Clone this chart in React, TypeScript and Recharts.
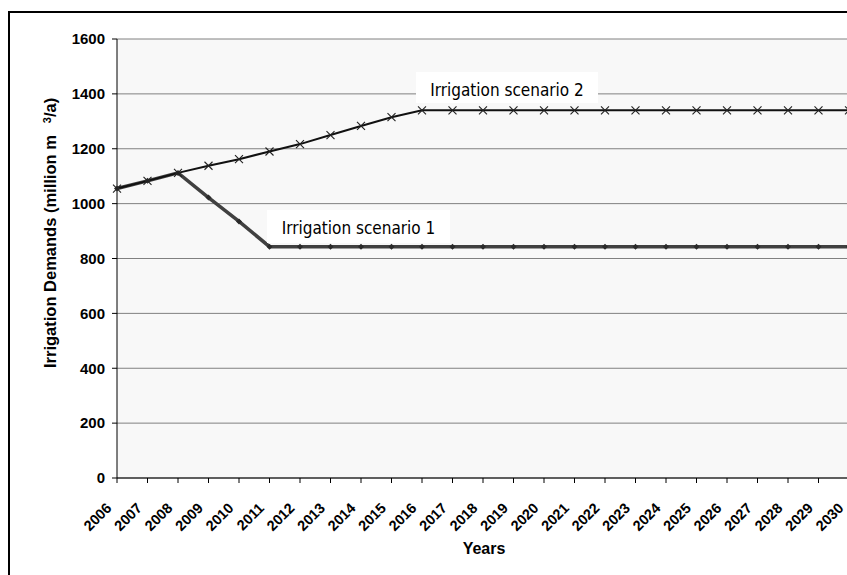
import React from 'react';
import { LineChart, Line, XAxis, YAxis, CartesianGrid } from 'recharts';

// Years on the x axis
const years = [
  '2006', '2007', '2008', '2009', '2010', '2011', '2012', '2013', '2014', '2015', '2016', '2017', '2018',
  '2019', '2020', '2021', '2022', '2023', '2024', '2025', '2026', '2027', '2028', '2029', '2030',
];

// Irrigation scenario 1 (million m3/a)
const scenario1 = [
  1055, 1083, 1112, 1022, 935, 843, 843, 843, 843, 843, 843, 843, 843,
  843, 843, 843, 843, 843, 843, 843, 843, 843, 843, 843, 843,
];

// Irrigation scenario 2 (million m3/a)
const scenario2 = [
  1055, 1083, 1112, 1138, 1162, 1190, 1217, 1250, 1283, 1315, 1340, 1340, 1340,
  1340, 1340, 1340, 1340, 1340, 1340, 1340, 1340, 1340, 1340, 1340, 1340,
];

const yTicks = [0, 200, 400, 600, 800, 1000, 1200, 1400, 1600];

const data = years.map((year, i) => ({
  year,
  s1: scenario1[i],
  s2: scenario2[i],
}));

const AXIS_FONT = "'Liberation Sans', Arial, sans-serif";
const NOTE_FONT = "'DejaVu Sans Condensed', 'DejaVu Sans', sans-serif";

const YearTick = (props: any) => {
  const { x, y, payload } = props;
  return (
    <g transform={`translate(${x - 4.5},${y + 24})`}>
      <text textAnchor="end" transform="rotate(-45)" fontFamily={AXIS_FONT} fontWeight="bold" fontSize={14.5} fill="#000">
        {payload.value}
      </text>
    </g>
  );
};

const CrossDot = (props: any) => {
  const { cx, cy, index } = props;
  if (cx == null || cy == null) return <g key={`c-${index}`} />;
  return (
    <path
      key={`c-${index}`}
      d={`M${cx - 4},${cy - 4}L${cx + 4},${cy + 4}M${cx - 4},${cy + 4}L${cx + 4},${cy - 4}`}
      stroke="#222"
      strokeWidth={1.1}
      fill="none"
    />
  );
};

const DiamondDot = (props: any) => {
  const { cx, cy, index } = props;
  if (cx == null || cy == null) return <g key={`d-${index}`} />;
  return (
    <path
      key={`d-${index}`}
      d={`M${cx},${cy - 3}L${cx + 3},${cy}L${cx},${cy + 3}L${cx - 3},${cy}Z`}
      fill="#2a2a2a"
    />
  );
};

export default function App() {
  return (
    <div style={{ position: 'fixed', left: 0, top: 0, width: 847, height: 575, overflow: 'hidden', background: '#fff' }}>
      {/* outer frame, cut off on the right and bottom like the original */}
      <div style={{ position: 'absolute', left: 8, top: 11, width: 900, height: 620, border: '2px solid #000' }} />

      <div style={{ position: 'absolute', left: 0, top: 0 }}>
        <LineChart width={880} height={575} data={data} margin={{ top: 39, right: 31, bottom: 17, left: 0 }}>
          <CartesianGrid vertical={false} stroke="#808080" fill="#f8f8f8" fillOpacity={1} />
          <XAxis
            dataKey="year"
            height={80}
            interval={0}
            tick={<YearTick />}
            tickSize={5}
            axisLine={{ stroke: '#000' }}
            tickLine={{ stroke: '#000' }}
          />
          <YAxis
            width={117}
            domain={[0, 1600]}
            ticks={yTicks}
            interval={0}
            tickSize={5}
            tickMargin={7}
            axisLine={{ stroke: '#000' }}
            tickLine={{ stroke: '#000' }}
            tick={{ fontFamily: AXIS_FONT, fontWeight: 'bold', fontSize: 15, fill: '#000' }}
          />
          <Line
            dataKey="s1"
            stroke="#404040"
            strokeWidth={3.5}
            dot={<DiamondDot />}
            activeDot={false}
            isAnimationActive={false}
          />
          <Line
            dataKey="s2"
            stroke="#111"
            strokeWidth={2}
            dot={<CrossDot />}
            activeDot={false}
            isAnimationActive={false}
          />
        </LineChart>
      </div>

      {/* titles and notes */}
      <svg width={847} height={575} style={{ position: 'absolute', left: 0, top: 0, pointerEvents: 'none' }}>
        <text
          transform="translate(56,368) rotate(-90)"
          fontFamily={AXIS_FONT}
          fontWeight="bold"
          fontSize={16.5}
          fill="#000"
        >
          Irrigation Demands (million m
          <tspan fontSize={11} dx={12} dy={-5}>3</tspan>
          <tspan dy={5}>/a)</tspan>
        </text>
        <text x={484} y={554} textAnchor="middle" fontFamily={AXIS_FONT} fontWeight="bold" fontSize={16} fill="#000">
          Years
        </text>

        <rect x={416} y={72} width={182} height={31} fill="#fff" />
        <text x={507} y={96} textAnchor="middle" fontFamily={NOTE_FONT} fontSize={17} fill="#000">
          Irrigation scenario 2
        </text>

        <rect x={267} y={210} width={183} height={33} fill="#fff" />
        <text x={358.5} y={234} textAnchor="middle" fontFamily={NOTE_FONT} fontSize={17} fill="#000">
          Irrigation scenario 1
        </text>
      </svg>
    </div>
  );
}
